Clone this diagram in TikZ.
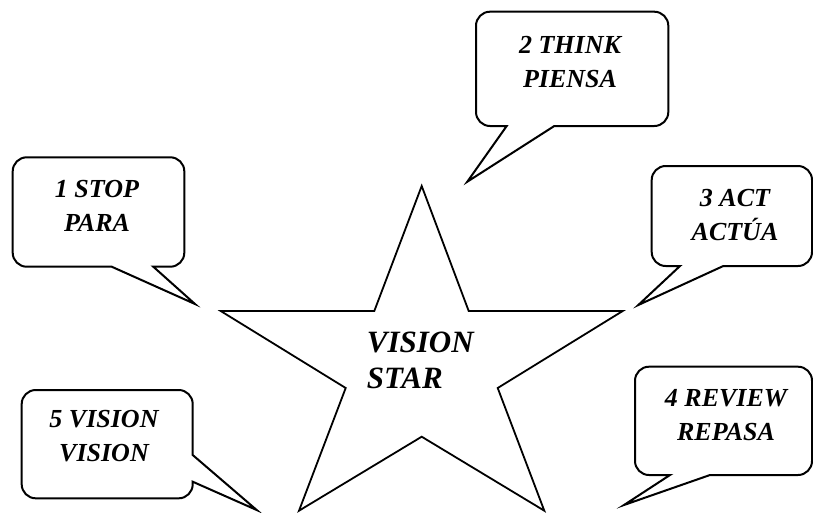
\documentclass[tikz,border=0pt]{standalone}
\usepackage{fontspec}
\setmainfont{Liberation Serif}[BoldFont={Liberation Serif Bold},
  ItalicFont={Liberation Serif Italic}, BoldItalicFont={Liberation Serif Bold Italic}]
\usetikzlibrary{calc}
\tikzstyle{bubble} = [draw, line width=2pt, fill=white]
\tikzstyle{say} = [font=\fontsize{26}{34}\selectfont\bfseries\itshape, align=center, inner sep=0pt, anchor=base]
\tikzstyle{starline} = [draw, line width=1.8pt]
\tikzstyle{starsay} = [font=\fontsize{31}{35.3}\selectfont\bfseries\itshape, align=left, inner sep=0pt, anchor=base west]

\begin{document}
\begin{tikzpicture}[x=1pt, y=-1pt, rc/.style={rounded corners=14pt}]
\useasboundingbox (0,0) rectangle (813,512);

\draw[starline] (421.7,186) -- (468.7,311) -- (622.7,311) -- (497.7,388) -- (544.3,510.7)
  -- (421.7,436.7) -- (299,510.7) -- (345.7,388) -- (220.7,311) -- (374.3,311) -- cycle;
\node[starsay] (star) at (366.7,388) {VISION\\STAR};

\coordinate (stoptip) at (195,304);
\draw[bubble] (stoptip) -- (153.3,266.7) [rc] -- (184.3,266.7) -- (184.3,157.3) -- (12.7,157.3)
  -- (12.7,266.7) [sharp corners] -- (111.7,266.7) -- cycle;
\node[say] (stop) at (97,231.7) {1 STOP\\PARA};

\coordinate (thinktip) at (467.3,181.7);
\draw[bubble] (thinktip) -- (554.3,126) [rc] -- (668.3,126) -- (668.3,11.7) -- (476,11.7)
  -- (476,126) [sharp corners] -- (506.7,126) -- cycle;
\node[say] (think) at (570,87.3) {2 THINK\\PIENSA};

\coordinate (acttip) at (638.3,305);
\draw[bubble] (acttip) -- (723.3,266) [rc] -- (812,266) -- (812,166) -- (651.7,166)
  -- (651.7,266) [sharp corners] -- (680,266) -- cycle;
\node[say] (act) at (735,240.7) {3 ACT\\ACTÚA};

\coordinate (reviewtip) at (624,505);
\draw[bubble] (reviewtip) -- (710,475) [rc] -- (812,475) -- (812,366.7) -- (635,366.7)
  -- (635,475) [sharp corners] -- (670,475) -- cycle;
\node[say] (review) at (726,440.7) {4 REVIEW\\REPASA};

\coordinate (visiontip) at (256.7,510);
\draw[bubble] (visiontip) -- (192.7,481.7) [rc] -- (192.7,498.3) -- (21.7,498.3) -- (21.7,390)
  -- (192.7,390) [sharp corners] -- (192.7,455) -- cycle;
\node[say] (vision) at (104,461.7) {5 VISION\\VISION};

\end{tikzpicture}
\end{document}
